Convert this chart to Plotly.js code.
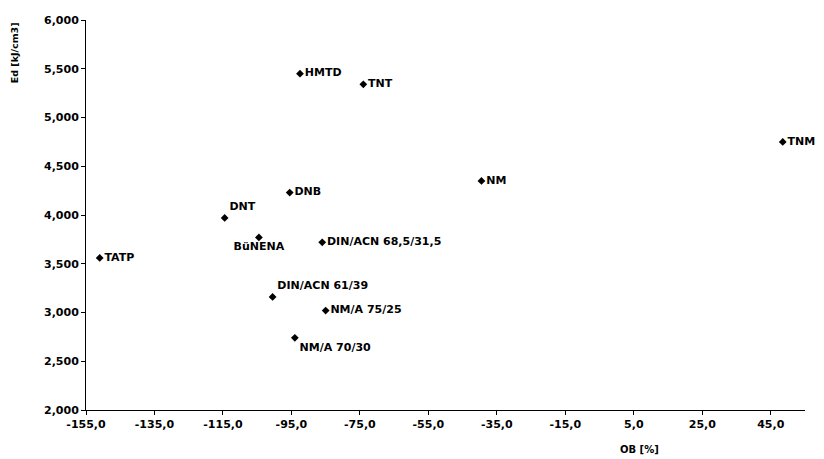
<!DOCTYPE html>
<html>
<head>
<meta charset="utf-8">
<script src="https://cdn.plot.ly/plotly-3.0.1.min.js"></script>
<style>
html,body{margin:0;padding:0;background:#fff;}
#chart{width:824px;height:459px;}
#chart .xtick text, #chart .ytick text, #chart text.xtick, #chart text.ytick, #chart .xtick, #chart .ytick, #chart .annotation-text {font-weight:700 !important;}
</style>
</head>
<body>
<div id="chart"></div>
<script>
const names = ["TATP","DNT","BüNENA","DNB","DIN/ACN 68,5/31,5","DIN/ACN 61/39","NM/A 75/25","NM/A 70/30","HMTD","TNT","NM","TNM"];
const ob = [-151, -114.5, -104.5, -95.5, -86, -100.5, -85, -94, -92.5, -74, -39.5, 48.5];
const ed = [3.56, 3.97, 3.77, 4.23, 3.72, 3.16, 3.02, 2.74, 5.45, 5.34, 4.35, 4.75];
const labelPos = ["middle right","top right","bottom center","middle right","middle right","top right","middle right","bottom right","middle right","middle right","middle right","middle right"];
const xTicks = [-155, -135, -115, -95, -75, -55, -35, -15, 5, 25, 45];
const yTicks = [2, 2.5, 3, 3.5, 4, 4.5, 5, 5.5, 6];
const xTickText = xTicks.map(v => v.toFixed(1).replace(".", ","));
const yTickText = yTicks.map(v => v.toFixed(3).replace(".", ","));

const font = "DejaVu Sans, Liberation Sans, Arial, sans-serif";
const trace = {
  x: ob, y: ed, text: names, mode: "markers+text", type: "scatter",
  textposition: labelPos,
  textfont: {family: font, size: 11, color: "#000", weight: 700},
  marker: {symbol: "diamond", size: 6, color: "#000"},
  cliponaxis: false, hoverinfo: "none"
};
const layout = {
  width: 824, height: 459,
  margin: {l: 86, r: 19, t: 20, b: 49},
  paper_bgcolor: "#fff", plot_bgcolor: "#fff",
  showlegend: false,
  font: {family: font, size: 11, color: "#000", weight: 700},
  xaxis: {
    range: [-155, 55], tickvals: xTicks, ticktext: xTickText,
    showgrid: false, zeroline: false, showline: true, linecolor: "#000", linewidth: 1,
    ticks: "outside", ticklen: 4, tickcolor: "#000",
    tickfont: {family: font, size: 11, weight: 700, color: "#000"}
  },
  yaxis: {
    range: [2, 6], tickvals: yTicks, ticktext: yTickText,
    showgrid: false, zeroline: false, showline: true, linecolor: "#000", linewidth: 1,
    ticks: "outside", ticklen: 4, tickcolor: "#000",
    tickfont: {family: font, size: 11, weight: 700, color: "#000"}
  },
  annotations: [
    {text: "Ed [kJ/cm3]", xref: "paper", yref: "paper", x: -0.1, y: 0.915, textangle: -90,
     showarrow: false, font: {family: font, size: 9.5, weight: 700, color: "#000"}, xanchor: "center", yanchor: "middle"},
    {text: "OB [%]", xref: "paper", yref: "paper", x: 0.77, y: -0.1, showarrow: false,
     font: {family: font, size: 10, weight: 700, color: "#000"}, xanchor: "center", yanchor: "middle"}
  ]
};
Plotly.newPlot("chart", [trace], layout, {staticPlot: true, displayModeBar: false});
</script>
</body>
</html>
